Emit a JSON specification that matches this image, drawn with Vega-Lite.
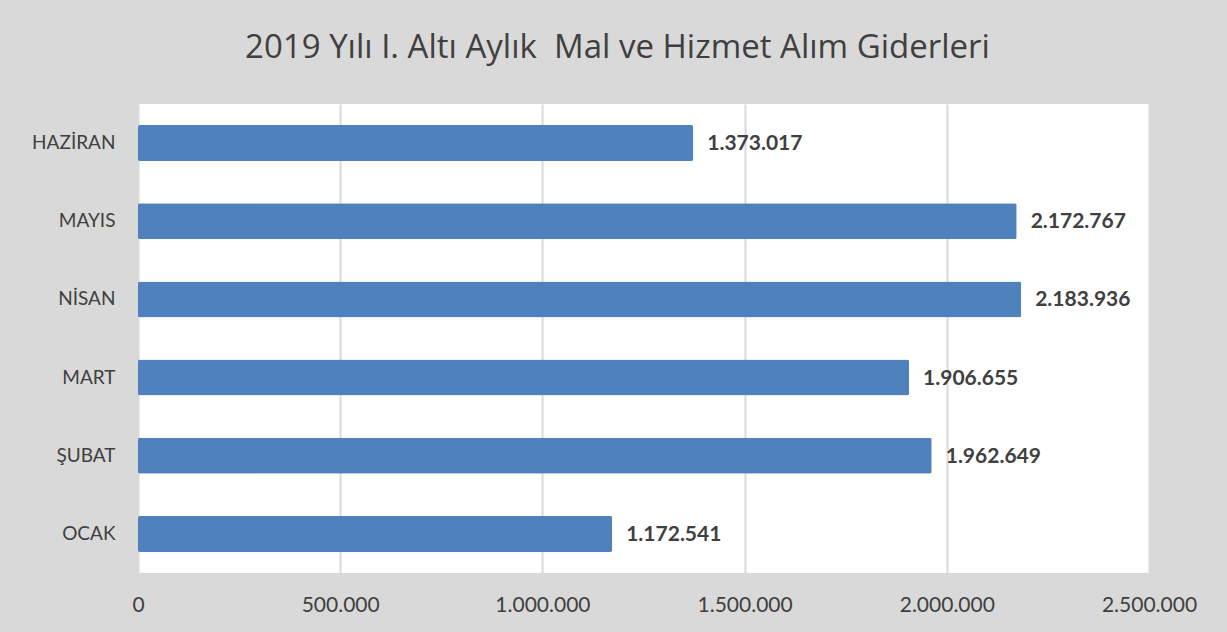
{
  "$schema": "https://vega.github.io/schema/vega-lite/v6.json",
  "autosize": {"type": "none"},
  "width": 1011,
  "height": 469,
  "padding": {"left": 138, "top": 104, "right": 78, "bottom": 59},
  "background": "#d9d9d9",
  "config": {
    "locale": {"number": {"decimal": ",", "thousands": ".", "grouping": [3], "currency": ["", " TL"]}},
    "view": {"fill": "#ffffff", "stroke": null},
    "font": "Lato"
  },
  "title": {
    "text": "2019 Yılı I. Altı Aylık \u00a0Mal ve Hizmet Alım Giderleri",
    "font": "Open Sans",
    "fontSize": 33,
    "fontWeight": "normal",
    "color": "#404040",
    "anchor": "middle",
    "frame": "group",
    "dx": -26,
    "offset": 39
  },
  "data": {
    "values": [
      {"ay": "OCAK", "tutar": 1172541},
      {"ay": "ŞUBAT", "tutar": 1962649},
      {"ay": "MART", "tutar": 1906655},
      {"ay": "NİSAN", "tutar": 2183936},
      {"ay": "MAYIS", "tutar": 2172767},
      {"ay": "HAZİRAN", "tutar": 1373017}
    ]
  },
  "encoding": {
    "y": {
      "field": "ay",
      "type": "nominal",
      "sort": ["HAZİRAN", "MAYIS", "NİSAN", "MART", "ŞUBAT", "OCAK"],
      "scale": {"paddingInner": 0.54, "paddingOuter": 0.27},
      "axis": {
        "title": null,
        "domain": false,
        "ticks": false,
        "labelFontSize": 19,
        "labelColor": "#404040",
        "labelPadding": 23,
        "labelFont": "Lato"
      }
    },
    "x": {
      "field": "tutar",
      "type": "quantitative",
      "scale": {"domain": [0, 2500000], "nice": false},
      "axis": {
        "title": null,
        "values": [0, 500000, 1000000, 1500000, 2000000, 2500000],
        "format": ",d",
        "domain": false,
        "ticks": false,
        "grid": true,
        "gridColor": "#d9d9d9",
        "gridWidth": 2,
        "labelFontSize": 21,
        "labelColor": "#404040",
        "labelPadding": 21,
        "labelFont": "Lato",
        "labelBaseline": "top",
        "labelFlush": false,
        "labelOverlap": false
      }
    }
  },
  "layer": [
    {"mark": {"type": "bar", "color": "#4f81bd", "cornerRadius": 2}},
    {
      "mark": {"type": "text", "align": "left", "baseline": "middle", "dx": 14, "dy": 1, "fontSize": 21, "fontWeight": "bold", "color": "#404040", "font": "Lato"},
      "encoding": {"text": {"field": "tutar", "type": "quantitative", "format": ",d"}}
    }
  ]
}
